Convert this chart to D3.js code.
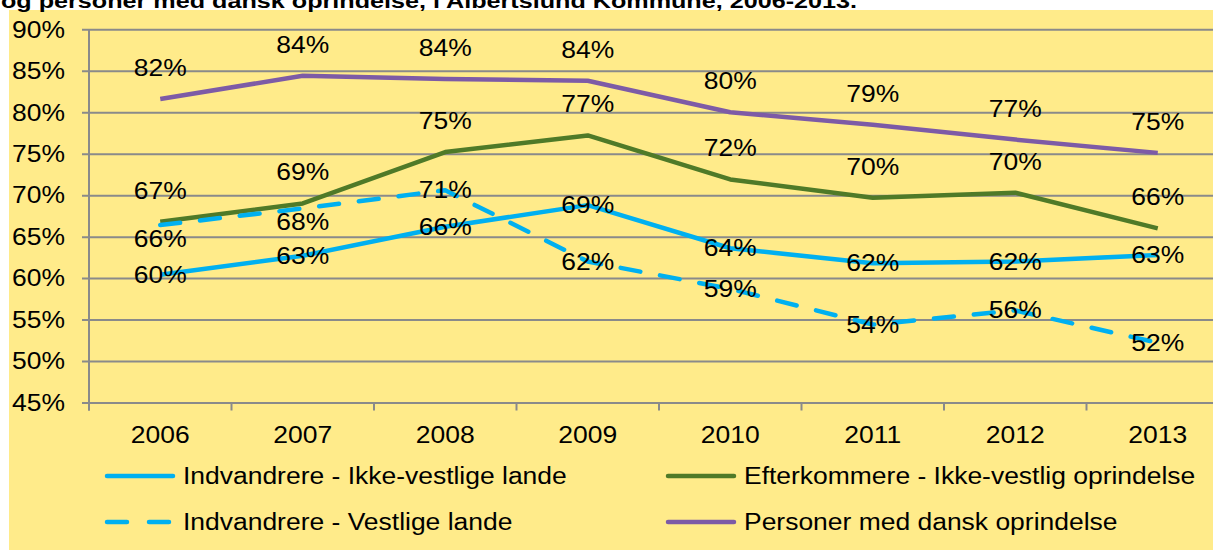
<!doctype html>
<html>
  <head>
    <script src="https://cdnjs.cloudflare.com/ajax/libs/d3/7.8.5/d3.min.js"></script>
    <style>
      body { margin: 0; background: #fff; }
      svg text { font-family: "Liberation Sans", Arial, sans-serif; fill: #000; }
      .grid line { stroke: #8a8a8a; stroke-width: 2; }
      .grid path { display: none; }
      .series { fill: none; stroke-width: 4.5; stroke-linejoin: round; }
    </style>
  </head>
  <body>
    <svg id="chart" width="1213" height="551"></svg>
    <script>
      var years = ["2006", "2007", "2008", "2009", "2010", "2011", "2012", "2013"];
      var yTicks = [45, 50, 55, 60, 65, 70, 75, 80, 85, 90];

      var ikkeVestlige = [60.4, 62.7, 66.2, 68.8, 63.6, 61.8, 62.0, 62.8];
      var vestlige     = [66.4, 68.4, 70.6, 62.0, 58.7, 54.4, 56.1, 52.2];
      var efterkommere = [66.8, 69.0, 75.2, 77.2, 71.9, 69.7, 70.3, 66.0];
      var dansk        = [81.6, 84.4, 84.0, 83.8, 80.0, 78.5, 76.7, 75.1];

      var seriesNames = [
        "Indvandrere - Ikke-vestlige lande",
        "Efterkommere - Ikke-vestlig oprindelse",
        "Indvandrere - Vestlige lande",
        "Personer med dansk oprindelse"
      ];

      var title = "og personer med dansk oprindelse, i Albertslund Kommune, 2006-2013.";

      var series = [
        { name: seriesNames[0], values: ikkeVestlige, color: "#00b0f0", dash: null, label: "center" },
        { name: seriesNames[1], values: efterkommere, color: "#4f7a28", dash: null, label: "above" },
        { name: seriesNames[2], values: vestlige, color: "#00b0f0", dash: "20,20", label: "center" },
        { name: seriesNames[3], values: dansk, color: "#7d5ba6", dash: null, label: "above" }
      ];
      // the first two labels of the dashed line sit under the line
      var belowIdx = { 2: [0, 1] };

      var STRETCH = 1.15;
      var FS = 23;

      var svg = d3.select("#chart");

      svg.append("rect")
        .attr("x", 9).attr("y", 10)
        .attr("width", 1213 - 9).attr("height", 540)
        .attr("fill", "#ffeb8a");

      var left = 89, step = 142.5;
      var x = d3.scaleBand().domain(years).range([left, left + step * years.length]);
      var y = d3.scaleLinear().domain([45, 90]).range([402.5, 29.3]);
      var w = x.range()[1] - left;

      // gridlines + y labels
      var gy = svg.append("g")
        .attr("class", "grid")
        .attr("transform", "translate(82,0)")
        .call(d3.axisLeft(y).tickValues(yTicks).tickSize(-(w + 7)).tickPadding(17).tickFormat(d => d + "%"));
      gy.selectAll("text").style("font-size", FS + "px").attr("dy", "0.34em");

      // y axis line
      svg.append("line")
        .attr("x1", left).attr("x2", left)
        .attr("y1", y(90)).attr("y2", y(45) + 8)
        .attr("stroke", "#8a8a8a").attr("stroke-width", 2);

      // x tick marks on category boundaries
      svg.selectAll("line.xtick")
        .data(d3.range(years.length + 1))
        .enter().append("line")
          .attr("class", "xtick")
          .attr("x1", i => left + i * x.step()).attr("x2", i => left + i * x.step())
          .attr("y1", y(45)).attr("y2", y(45) + 8)
          .attr("stroke", "#8a8a8a").attr("stroke-width", 2);

      // x labels
      svg.selectAll("text.xlab")
        .data(years)
        .enter().append("text")
          .attr("class", "xlab")
          .attr("x", d => x(d) + x.bandwidth() / 2)
          .attr("y", 443)
          .attr("text-anchor", "middle")
          .style("font-size", FS + "px")
          .text(d => d);

      var line = d3.line()
        .x((d, i) => x(years[i]) + x.bandwidth() / 2)
        .y(d => y(d));

      svg.selectAll("path.series")
        .data(series)
        .enter().append("path")
          .attr("class", "series")
          .attr("d", d => line(d.values))
          .attr("stroke", d => d.color)
          .attr("stroke-dasharray", d => d.dash)
          .attr("stroke-linecap", d => d.dash ? "round" : "butt");

      // data labels
      series.forEach(function (s, si) {
        svg.selectAll(null)
          .data(s.values)
          .enter().append("text")
            .attr("x", (d, i) => x(years[i]) + x.bandwidth() / 2)
            .attr("y", function (d, i) {
              if (belowIdx[si] && belowIdx[si].indexOf(i) >= 0) return y(d) + 22;
              return s.label === "above" ? y(d) - 23 : y(d) + 8;
            })
            .attr("text-anchor", "middle")
            .style("font-size", FS + "px")
            .text(d => Math.round(d) + "%");
      });

      // legend
      var legendPos = [[105, 476], [666, 476], [105, 522], [666, 522]];
      var lg = svg.selectAll("g.legend")
        .data(series)
        .enter().append("g")
          .attr("class", "legend")
          .attr("transform", (d, i) => "translate(" + legendPos[i][0] + "," + legendPos[i][1] + ")");
      lg.append("line")
        .attr("x1", 2).attr("x2", 68)
        .attr("stroke", d => d.color)
        .attr("stroke-width", 4.5)
        .attr("stroke-linecap", "round")
        .attr("stroke-dasharray", d => d.dash ? "20,22" : null);
      lg.append("text")
        .attr("x", 78).attr("y", 8)
        .style("font-size", FS + "px")
        .text(d => d.name);

      // widen glyphs a little, like the original rendering
      svg.selectAll("text").each(function () {
        var len = this.getComputedTextLength();
        d3.select(this).attr("textLength", len * STRETCH).attr("lengthAdjust", "spacingAndGlyphs");
      });

      // title, cut by the top edge as in the original
      svg.append("text")
        .attr("x", 1).attr("y", 7.5)
        .style("font-weight", "bold")
        .style("font-size", "21px")
        .attr("textLength", 856)
        .attr("lengthAdjust", "spacingAndGlyphs")
        .text(title);
    </script>
  </body>
</html>
